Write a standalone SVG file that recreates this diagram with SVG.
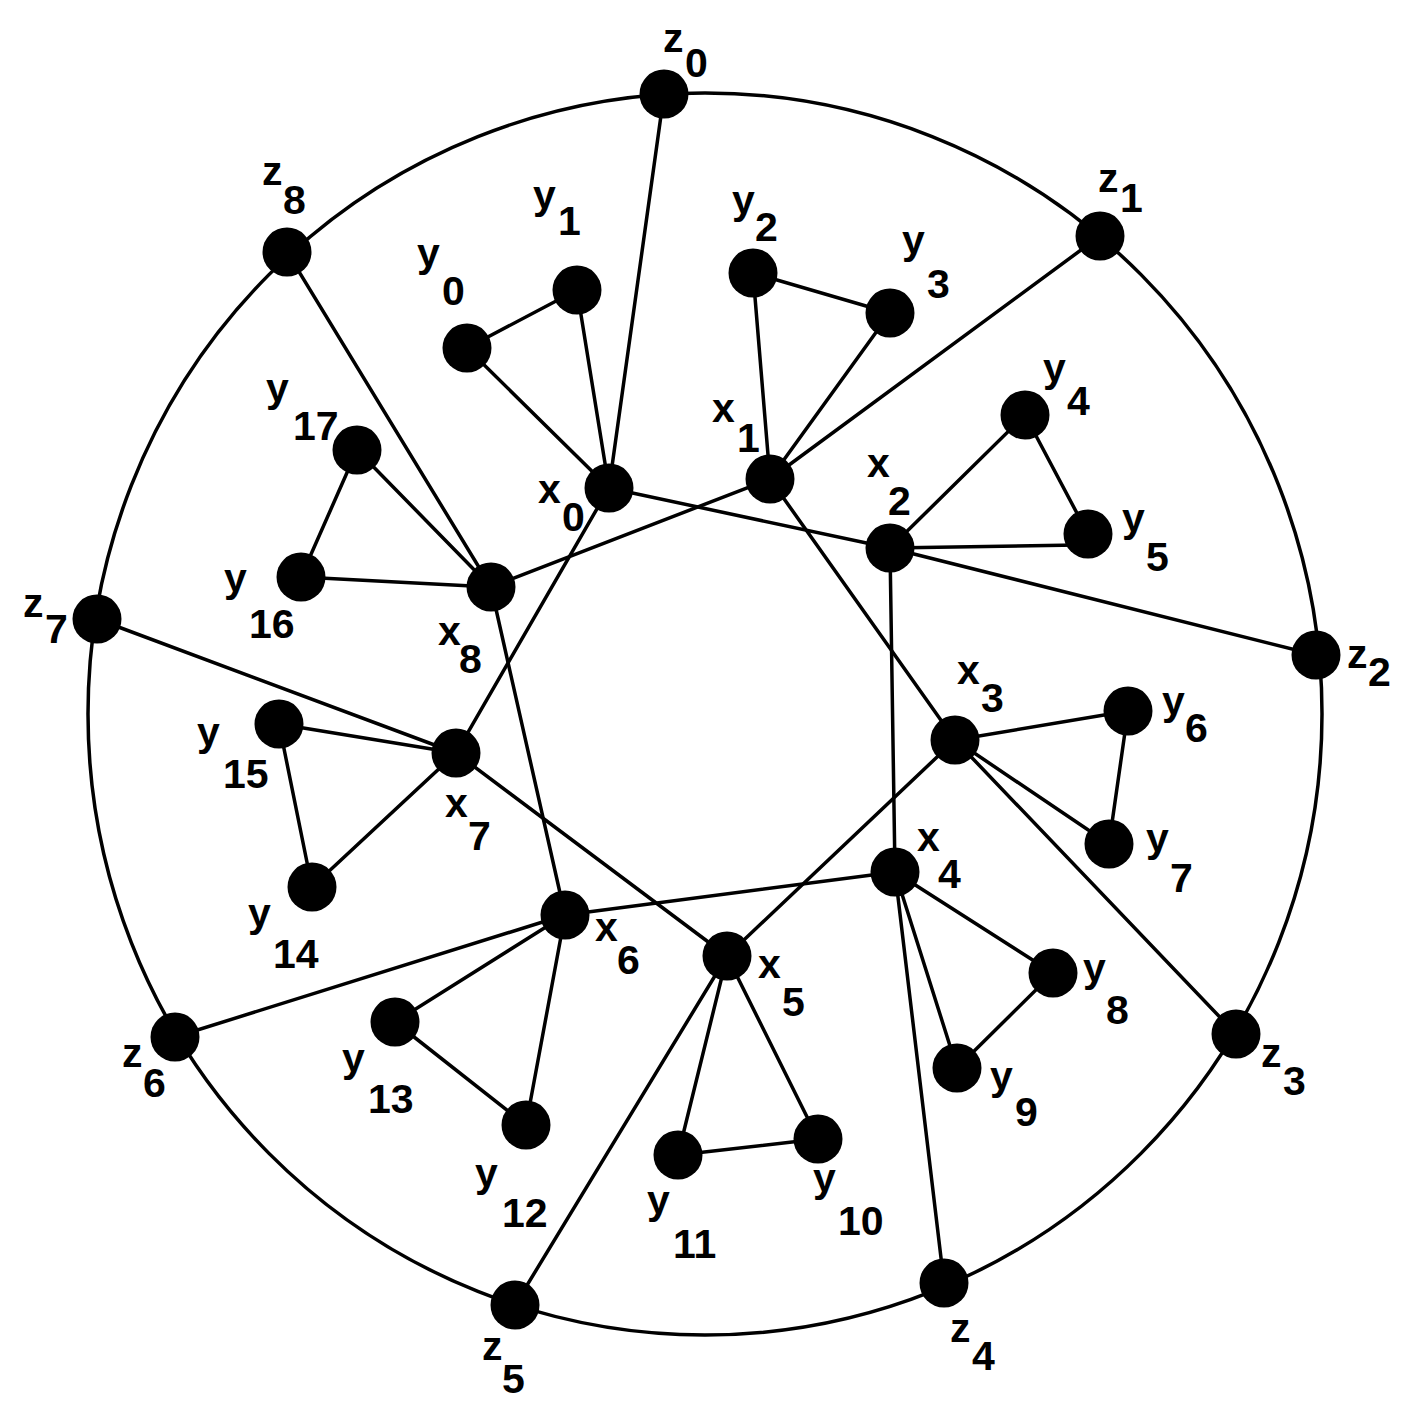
<svg xmlns="http://www.w3.org/2000/svg" width="1412" height="1423" viewBox="0 0 1412 1423">
<style>
.e{stroke:#000;stroke-width:3.5;fill:none;stroke-linecap:round}
.n{fill:#000}
.t{font-family:"Liberation Sans",Arial,sans-serif;font-weight:bold;font-size:41px;fill:#000}
</style>
<rect width="1412" height="1423" fill="#fff"/>
<g id="connectors" class="e">
<ellipse cx="705" cy="714" rx="617" ry="621"/>
<line x1="664" y1="94" x2="609" y2="488"/>
<line x1="1100" y1="236" x2="770" y2="479"/>
<line x1="1316" y1="655" x2="890" y2="548"/>
<line x1="1236" y1="1034" x2="955" y2="740"/>
<line x1="944" y1="1283" x2="895" y2="872"/>
<line x1="515" y1="1305" x2="727" y2="956"/>
<line x1="175" y1="1037" x2="565" y2="915"/>
<line x1="97" y1="619" x2="456" y2="753"/>
<line x1="287" y1="252" x2="491" y2="587"/>
<line x1="609" y1="488" x2="890" y2="548"/>
<line x1="770" y1="479" x2="955" y2="740"/>
<line x1="890" y1="548" x2="895" y2="872"/>
<line x1="955" y1="740" x2="727" y2="956"/>
<line x1="895" y1="872" x2="565" y2="915"/>
<line x1="727" y1="956" x2="456" y2="753"/>
<line x1="565" y1="915" x2="491" y2="587"/>
<line x1="456" y1="753" x2="609" y2="488"/>
<line x1="491" y1="587" x2="770" y2="479"/>
<line x1="609" y1="488" x2="467" y2="348"/>
<line x1="609" y1="488" x2="577" y2="290"/>
<line x1="467" y1="348" x2="577" y2="290"/>
<line x1="770" y1="479" x2="753" y2="273"/>
<line x1="770" y1="479" x2="890" y2="313"/>
<line x1="753" y1="273" x2="890" y2="313"/>
<line x1="890" y1="548" x2="1025" y2="415"/>
<line x1="890" y1="548" x2="1078" y2="545"/>
<line x1="1025" y1="415" x2="1088" y2="534"/>
<line x1="955" y1="740" x2="1128" y2="711"/>
<line x1="955" y1="740" x2="1109" y2="844"/>
<line x1="1128" y1="711" x2="1109" y2="844"/>
<line x1="895" y1="872" x2="1053" y2="973"/>
<line x1="895" y1="872" x2="957" y2="1068"/>
<line x1="1053" y1="973" x2="957" y2="1068"/>
<line x1="727" y1="956" x2="818" y2="1139"/>
<line x1="727" y1="956" x2="678" y2="1155"/>
<line x1="818" y1="1139" x2="678" y2="1155"/>
<line x1="565" y1="915" x2="526" y2="1125"/>
<line x1="565" y1="915" x2="395" y2="1022"/>
<line x1="526" y1="1125" x2="395" y2="1022"/>
<line x1="456" y1="753" x2="312" y2="887"/>
<line x1="456" y1="753" x2="279" y2="724"/>
<line x1="312" y1="887" x2="279" y2="724"/>
<line x1="491" y1="587" x2="301" y2="577"/>
<line x1="491" y1="587" x2="357" y2="450"/>
<line x1="301" y1="577" x2="357" y2="450"/>
</g>
<g id="z0"><circle class="n" cx="664" cy="94" r="24.5"/><text class="t"><tspan x="663" y="52">z</tspan><tspan x="685" y="77">0</tspan></text></g>
<g id="z1"><circle class="n" cx="1100" cy="236" r="24.5"/><text class="t"><tspan x="1098" y="192">z</tspan><tspan x="1120" y="212">1</tspan></text></g>
<g id="z2"><circle class="n" cx="1316" cy="655" r="24.5"/><text class="t"><tspan x="1347" y="668">z</tspan><tspan x="1368" y="686">2</tspan></text></g>
<g id="z3"><circle class="n" cx="1236" cy="1034" r="24.5"/><text class="t"><tspan x="1261" y="1067">z</tspan><tspan x="1283" y="1095">3</tspan></text></g>
<g id="z4"><circle class="n" cx="944" cy="1283" r="24.5"/><text class="t"><tspan x="950" y="1342">z</tspan><tspan x="972" y="1370">4</tspan></text></g>
<g id="z5"><circle class="n" cx="515" cy="1305" r="24.5"/><text class="t"><tspan x="482" y="1360">z</tspan><tspan x="502" y="1393">5</tspan></text></g>
<g id="z6"><circle class="n" cx="175" cy="1037" r="24.5"/><text class="t"><tspan x="122" y="1067">z</tspan><tspan x="143" y="1097">6</tspan></text></g>
<g id="z7"><circle class="n" cx="97" cy="619" r="24.5"/><text class="t"><tspan x="23" y="617">z</tspan><tspan x="45" y="643">7</tspan></text></g>
<g id="z8"><circle class="n" cx="287" cy="252" r="24.5"/><text class="t"><tspan x="262" y="185">z</tspan><tspan x="283" y="214">8</tspan></text></g>
<g id="x0"><circle class="n" cx="609" cy="488" r="24.5"/><text class="t"><tspan x="538" y="503">x</tspan><tspan x="562" y="531">0</tspan></text></g>
<g id="x1"><circle class="n" cx="770" cy="479" r="24.5"/><text class="t"><tspan x="712" y="422">x</tspan><tspan x="737" y="452">1</tspan></text></g>
<g id="x2"><circle class="n" cx="890" cy="548" r="24.5"/><text class="t"><tspan x="867" y="477">x</tspan><tspan x="888" y="515">2</tspan></text></g>
<g id="x3"><circle class="n" cx="955" cy="740" r="24.5"/><text class="t"><tspan x="957" y="684">x</tspan><tspan x="981" y="712">3</tspan></text></g>
<g id="x4"><circle class="n" cx="895" cy="872" r="24.5"/><text class="t"><tspan x="917" y="851">x</tspan><tspan x="938" y="888">4</tspan></text></g>
<g id="x5"><circle class="n" cx="727" cy="956" r="24.5"/><text class="t"><tspan x="758" y="978">x</tspan><tspan x="782" y="1016">5</tspan></text></g>
<g id="x6"><circle class="n" cx="565" cy="915" r="24.5"/><text class="t"><tspan x="595" y="941">x</tspan><tspan x="617" y="974">6</tspan></text></g>
<g id="x7"><circle class="n" cx="456" cy="753" r="24.5"/><text class="t"><tspan x="445" y="817">x</tspan><tspan x="468" y="850">7</tspan></text></g>
<g id="x8"><circle class="n" cx="491" cy="587" r="24.5"/><text class="t"><tspan x="438" y="645">x</tspan><tspan x="459" y="673">8</tspan></text></g>
<g id="y0"><circle class="n" cx="467" cy="348" r="24.5"/><text class="t"><tspan x="417" y="267">y</tspan><tspan x="442" y="305">0</tspan></text></g>
<g id="y1"><circle class="n" cx="577" cy="290" r="24.5"/><text class="t"><tspan x="533" y="209">y</tspan><tspan x="558" y="235">1</tspan></text></g>
<g id="y2"><circle class="n" cx="753" cy="273" r="24.5"/><text class="t"><tspan x="732" y="214">y</tspan><tspan x="755" y="241">2</tspan></text></g>
<g id="y3"><circle class="n" cx="890" cy="313" r="24.5"/><text class="t"><tspan x="902" y="254">y</tspan><tspan x="927" y="298">3</tspan></text></g>
<g id="y4"><circle class="n" cx="1025" cy="415" r="24.5"/><text class="t"><tspan x="1043" y="382">y</tspan><tspan x="1067" y="415">4</tspan></text></g>
<g id="y5"><circle class="n" cx="1088" cy="534" r="24.5"/><text class="t"><tspan x="1122" y="532">y</tspan><tspan x="1146" y="571">5</tspan></text></g>
<g id="y6"><circle class="n" cx="1128" cy="711" r="24.5"/><text class="t"><tspan x="1162" y="715">y</tspan><tspan x="1185" y="742">6</tspan></text></g>
<g id="y7"><circle class="n" cx="1109" cy="844" r="24.5"/><text class="t"><tspan x="1146" y="852">y</tspan><tspan x="1170" y="892">7</tspan></text></g>
<g id="y8"><circle class="n" cx="1053" cy="973" r="24.5"/><text class="t"><tspan x="1083" y="982">y</tspan><tspan x="1106" y="1024">8</tspan></text></g>
<g id="y9"><circle class="n" cx="957" cy="1068" r="24.5"/><text class="t"><tspan x="990" y="1090">y</tspan><tspan x="1015" y="1126">9</tspan></text></g>
<g id="y10"><circle class="n" cx="818" cy="1139" r="24.5"/><text class="t"><tspan x="813" y="1192">y</tspan><tspan x="838" y="1235">10</tspan></text></g>
<g id="y11"><circle class="n" cx="678" cy="1155" r="24.5"/><text class="t"><tspan x="647" y="1214">y</tspan><tspan x="673" y="1258">11</tspan></text></g>
<g id="y12"><circle class="n" cx="526" cy="1125" r="24.5"/><text class="t"><tspan x="475" y="1187">y</tspan><tspan x="502" y="1227">12</tspan></text></g>
<g id="y13"><circle class="n" cx="395" cy="1022" r="24.5"/><text class="t"><tspan x="342" y="1072">y</tspan><tspan x="368" y="1113">13</tspan></text></g>
<g id="y14"><circle class="n" cx="312" cy="887" r="24.5"/><text class="t"><tspan x="248" y="927">y</tspan><tspan x="273" y="968">14</tspan></text></g>
<g id="y15"><circle class="n" cx="279" cy="724" r="24.5"/><text class="t"><tspan x="197" y="746">y</tspan><tspan x="223" y="788">15</tspan></text></g>
<g id="y16"><circle class="n" cx="301" cy="577" r="24.5"/><text class="t"><tspan x="224" y="592">y</tspan><tspan x="249" y="638">16</tspan></text></g>
<g id="y17"><circle class="n" cx="357" cy="450" r="24.5"/><text class="t"><tspan x="266" y="402">y</tspan><tspan x="293" y="440">17</tspan></text></g>
</svg>
